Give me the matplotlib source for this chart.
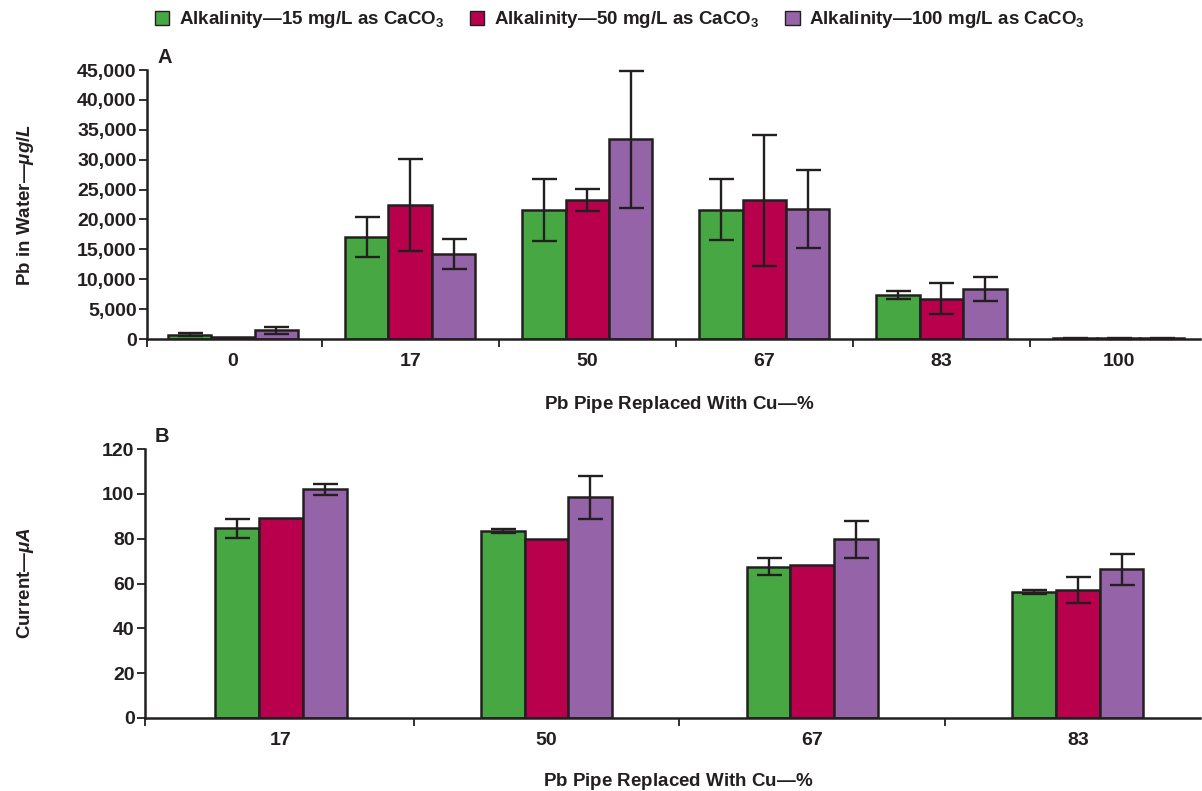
import matplotlib
matplotlib.use("Agg")
import matplotlib.pyplot as plt
from matplotlib.patches import Patch
import numpy as np

# ---------------- data ----------------
series_labels = ["Alkalinity\u201415 mg/L as CaCO$_3$",
                 "Alkalinity\u201450 mg/L as CaCO$_3$",
                 "Alkalinity\u2014100 mg/L as CaCO$_3$"]

a_categories = ["0", "17", "50", "67", "83", "100"]
a_green = [750, 17100, 21600, 21600, 7350, 120]
a_green_err = [250, 3300, 5200, 5100, 700, 60]
a_red = [400, 22400, 23200, 23200, 6700, 120]
a_red_err = [0, 7700, 1850, 11000, 2600, 60]
a_purple = [1450, 14200, 33400, 21700, 8400, 120]
a_purple_err = [550, 2500, 11500, 6500, 2000, 60]
a_yticks = [0, 5000, 10000, 15000, 20000, 25000, 30000, 35000, 40000, 45000]
a_yticklabels = ["0", "5,000", "10,000", "15,000", "20,000", "25,000",
                 "30,000", "35,000", "40,000", "45,000"]

b_categories = ["17", "50", "67", "83"]
b_green = [84.6, 83.5, 67.5, 56.2]
b_green_err = [4.3, 0.9, 3.7, 1.0]
b_red = [89.1, 79.7, 68.2, 57.0]
b_red_err = [0, 0, 0, 5.9]
b_purple = [102.0, 98.4, 79.7, 66.3]
b_purple_err = [2.4, 9.6, 8.3, 6.8]
b_yticks = [0, 20, 40, 60, 80, 100, 120]

# ---------------- layout / style ----------------
a_width = 0.245
a_xlim = (-0.486, 5.46)
b_width = 0.1645
b_xlim = (-0.512, 3.46)

colors = ["#47A843", "#B9004D", "#9563A8"]
dark = "#231F20"

plt.rcParams['font.family'] = ['Liberation Sans', 'DejaVu Sans']
plt.rcParams['font.weight'] = 'bold'
plt.rcParams['mathtext.default'] = 'regular'
plt.rcParams['mathtext.fontset'] = 'custom'
plt.rcParams['mathtext.it'] = 'Liberation Sans:italic:bold'
plt.rcParams['mathtext.rm'] = 'Liberation Sans:bold'

FS_TICK = 14
FS_LAB = 13.5

fig = plt.figure(figsize=(12.02, 7.91), dpi=100)
axA = fig.add_axes([147/1202, 1-339/791, 1053/1202, 269/791])
axB = fig.add_axes([145/1202, 1-718/791, 1055/1202, 269/791])


def draw(ax, width, vals, errs):
    n = len(vals[0])
    centers = np.arange(n, dtype=float)
    for i, (v, e) in enumerate(zip(vals, errs)):
        x = centers + (i - 1) * width
        ax.bar(x, v, width=width, color=colors[i], edgecolor=dark,
               linewidth=1.8, zorder=2)
        e = np.array(e, float)
        m = e > 0
        ax.errorbar(x[m], np.array(v, float)[m], yerr=e[m], fmt='none',
                    ecolor=dark, elinewidth=1.7, capsize=9, capthick=1.7,
                    zorder=3, clip_on=False)


def style(ax, cats, xlim):
    n = len(cats)
    ax.set_xlim(*xlim)
    for s in ['top', 'right']:
        ax.spines[s].set_visible(False)
    for s in ['left', 'bottom']:
        ax.spines[s].set_linewidth(1.8)
        ax.spines[s].set_color(dark)
    ax.set_xticks(np.arange(n))
    ax.set_xticklabels(cats, fontsize=FS_TICK, fontweight='bold')
    ax.tick_params(axis='x', which='major', length=0, pad=10, colors=dark)
    bounds = [xlim[0]] + list(np.arange(n - 1) + 0.5)
    ax.set_xticks(bounds, minor=True)
    ax.tick_params(axis='x', which='minor', length=5.5, width=1.3,
                   direction='out', color=dark)
    ax.tick_params(axis='y', length=5.5, width=1.3, direction='out',
                   color=dark, labelsize=FS_TICK, pad=2, labelcolor=dark)
    ax.set_xlabel("Pb Pipe Replaced With Cu\u2014$\\mathit{\\%}$",
                  fontsize=FS_LAB, fontweight='bold', color=dark, va='center')


draw(axA, a_width, [a_green, a_red, a_purple],
     [a_green_err, a_red_err, a_purple_err])
style(axA, a_categories, a_xlim)
axA.set_ylim(0, 45000)
axA.set_yticks(a_yticks)
axA.set_yticklabels(a_yticklabels)
axA.set_ylabel("Pb in Water\u2014$\\mathit{\u03bcg/L}$", fontsize=FS_LAB,
               fontweight='bold', color=dark)
axA.xaxis.set_label_coords(0.5057, -0.245)
axA.yaxis.set_label_coords(-0.105, 0.5)
axA.text(0.0095, 1.045, "A", transform=axA.transAxes, fontsize=14.5,
         fontweight='bold', color=dark, ha='left', va='center')

draw(axB, b_width, [b_green, b_red, b_purple],
     [b_green_err, b_red_err, b_purple_err])
style(axB, b_categories, b_xlim)
axB.set_ylim(0, 120)
axB.set_yticks(b_yticks)
axB.set_ylabel("Current\u2014$\\mathit{\u03bcA}$", fontsize=FS_LAB,
               fontweight='bold', color=dark)
axB.xaxis.set_label_coords(0.505, -0.237)
axB.yaxis.set_label_coords(-0.103, 0.5)
axB.text(0.0095, 1.045, "B", transform=axB.transAxes, fontsize=14.5,
         fontweight='bold', color=dark, ha='left', va='center')

handles = [Patch(facecolor=c, edgecolor=dark, linewidth=1.0) for c in colors]
fig.legend(handles, series_labels, loc='center', ncol=3,
           bbox_to_anchor=(620/1202, 1-20/791), frameon=False,
           prop={'size': FS_LAB, 'weight': 'bold'}, handlelength=0.75,
           handleheight=0.75, handletextpad=0.5, columnspacing=1.4,
           labelcolor=dark)

fig.savefig("out.png", dpi=100)
